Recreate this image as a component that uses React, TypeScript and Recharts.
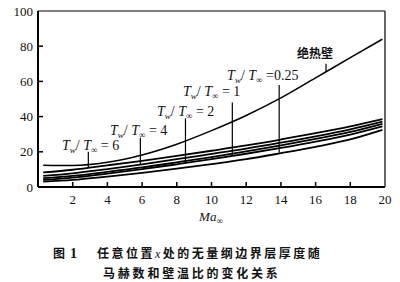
import React from "react";
import { LineChart, Line, XAxis, YAxis, ReferenceLine, ReferenceDot } from "recharts";

// Mach numbers at which curves were read
const machValues = [0.3, 2, 4, 6, 8, 10, 12, 14, 16, 18, 19.85];
// Adiabatic wall (绝热壁)
const adiabatic = [12.4, 12.2, 14.0, 18.2, 24.3, 32.0, 40.6, 50.6, 62.0, 73.5, 84.0];
// Lower family of wall-temperature-ratio curves (top to bottom)
const curveA = [8.3, 9.8, 12.3, 14.9, 17.7, 20.6, 23.6, 27.0, 30.6, 34.5, 38.6];
const curveB = [6.3, 7.8, 10.2, 12.9, 15.8, 18.8, 21.8, 25.2, 28.8, 32.8, 37.2];
const curveC = [5.0, 6.3, 8.6, 11.1, 14.0, 17.0, 20.2, 23.6, 27.3, 31.3, 35.9];
const curveD = [4.0, 5.3, 7.6, 10.1, 12.9, 15.8, 18.9, 22.2, 25.8, 29.8, 34.4];
const curveE = [3.0, 4.0, 5.9, 8.0, 10.4, 13.0, 15.8, 19.2, 22.8, 27.0, 32.4];

const xTicks = [2, 4, 6, 8, 10, 12, 14, 16, 18, 20];
const yTicks = [0, 20, 40, 60, 80, 100];

// Annotations (in data units): ratio labels and pointer lines
const ratioLabels = ["6", "4", "2", "1", "0.25"];
const ratioLabelMa = [1.38, 4.15, 6.86, 8.36, 10.9];
const ratioLabelValue = [23.9, 32.4, 43.2, 54.5, 63.6];
const pointerMa = [2.9, 5.9, 8.5, 11.2, 13.9, 16.6];
const pointerTop = [20, 28, 39, 48, 58, 70];
const pointerBottom = [11.4, 12.5, 13.7, 18, 19.4, 65.3];
const adiabaticLabel = "绝热壁";
const adiabaticLabelMa = 14.93;
const adiabaticLabelValue = 76.1;

const data = machValues.map((ma, i) => ({
  ma,
  adiabatic: adiabatic[i],
  a: curveA[i],
  b: curveB[i],
  c: curveC[i],
  d: curveD[i],
  e: curveE[i],
}));

const SERIF = "Liberation Serif, Times New Roman, DejaVu Serif, serif";
const CJK = "Noto Sans CJK SC, sans-serif";
const serifStyle = { fontFamily: SERIF };
const cjkStyle = { fontFamily: CJK };

const XTick = (props: any) => {
  const { x, y, payload } = props;
  return (
    <g>
      {payload.value !== 20 && (
        <line x1={x} x2={x} y1={y} y2={y - 5} stroke="#000" strokeWidth={1.5} />
      )}
      <text x={x} y={y + 17} textAnchor="middle" style={serifStyle} fontSize={13} fill="#111">
        {payload.value}
      </text>
    </g>
  );
};

const YTick = (props: any) => {
  const { x, y, payload } = props;
  const v = payload.value;
  return (
    <g>
      {v !== 0 && v !== 100 && (
        <line x1={x} x2={x + 5} y1={y} y2={y} stroke="#000" strokeWidth={1.5} />
      )}
      <text x={x - 5} y={y + 4.5} textAnchor="end" style={serifStyle} fontSize={13} fill="#111">
        {v}
      </text>
    </g>
  );
};

const RatioText = ({ cx, cy, value }: any) => (
  <text x={cx} y={cy + 5} style={serifStyle} fontSize={14} fill="#111">
    <tspan fontStyle="italic">T</tspan>
    <tspan fontStyle="italic" fontSize={9} dy={3}>w</tspan>
    <tspan dy={-3}>/ </tspan>
    <tspan fontStyle="italic">T</tspan>
    <tspan fontSize={9} dy={3}>∞</tspan>
    <tspan dy={-3}>{value === "0.25" ? " =" + value : " = " + value}</tspan>
  </text>
);

export default function App() {
  return (
    <div style={{ position: "absolute", left: 0, top: 0, width: 400, height: 282, background: "#fff" }}>
      <LineChart
        width={400}
        height={282}
        data={data}
        margin={{ top: 11, right: 15, left: 8, bottom: 0 }}
      >
        <XAxis
          dataKey="ma"
          type="number"
          domain={[0, 20]}
          ticks={xTicks}
          height={95}
          tickSize={0}
          tickMargin={0}
          tickLine={false}
          axisLine={{ stroke: "#000", strokeWidth: 2 }}
          tick={<XTick />}
          interval={0}
        />
        <YAxis
          type="number"
          domain={[0, 100]}
          ticks={yTicks}
          width={30}
          tickSize={0}
          tickMargin={0}
          tickLine={false}
          axisLine={{ stroke: "#000", strokeWidth: 2 }}
          tick={<YTick />}
          interval={0}
        />
        <ReferenceLine y={100} stroke="#000" strokeWidth={1.2} />
        <ReferenceLine x={20} stroke="#000" strokeWidth={1.2} />
        <Line type="monotone" dataKey="adiabatic" stroke="#000" strokeWidth={1.5} dot={false} isAnimationActive={false} />
        <Line type="monotone" dataKey="a" stroke="#000" strokeWidth={1.8} dot={false} isAnimationActive={false} />
        <Line type="monotone" dataKey="b" stroke="#000" strokeWidth={1.8} dot={false} isAnimationActive={false} />
        <Line type="monotone" dataKey="c" stroke="#000" strokeWidth={1.8} dot={false} isAnimationActive={false} />
        <Line type="monotone" dataKey="d" stroke="#000" strokeWidth={1.8} dot={false} isAnimationActive={false} />
        <Line type="monotone" dataKey="e" stroke="#000" strokeWidth={1.8} dot={false} isAnimationActive={false} />
        {pointerMa.map((m, i) => (
          <ReferenceLine
            key={"p" + i}
            segment={[
              { x: m, y: pointerTop[i] },
              { x: m, y: pointerBottom[i] },
            ]}
            stroke="#000"
            strokeWidth={1.2}
          />
        ))}
        {ratioLabels.map((lab, i) => (
          <ReferenceDot
            key={"l" + i}
            x={ratioLabelMa[i]}
            y={ratioLabelValue[i]}
            r={0}
            shape={(p: any) => <RatioText cx={p.cx} cy={p.cy} value={lab} />}
          />
        ))}
        <ReferenceDot
          x={adiabaticLabelMa}
          y={adiabaticLabelValue}
          r={0}
          shape={(p: any) => (
            <text x={p.cx} y={p.cy + 5} style={cjkStyle} fontWeight={700} fontSize={12} fill="#111">
              {adiabaticLabel}
            </text>
          )}
        />
      </LineChart>
      <svg width={400} height={282} style={{ position: "absolute", left: 0, top: 0, pointerEvents: "none" }}>
        <text x={211} y={221} textAnchor="middle" style={serifStyle} fontSize={13} fill="#111">
          <tspan fontStyle="italic">Ma</tspan>
          <tspan fontSize={9} dy={3}>∞</tspan>
        </text>
        <text x={53} y={257.5} style={cjkStyle} fontWeight={700} fontSize={12} fill="#111">图</text>
        <text x={70} y={257.5} style={serifStyle} fontWeight={700} fontSize={14} fill="#111">1</text>
        <text x={97} y={257.5} style={cjkStyle} fontWeight={700} fontSize={12} letterSpacing={2.5} fill="#111">
          任意位置
          <tspan style={serifStyle} fontStyle="italic" fontWeight={400}>x</tspan>
          处的无量纲边界层厚度随
        </text>
        <text x={103} y={277.5} style={cjkStyle} fontWeight={700} fontSize={12} letterSpacing={2.8} fill="#111">
          马赫数和壁温比的变化关系
        </text>
      </svg>
    </div>
  );
}
